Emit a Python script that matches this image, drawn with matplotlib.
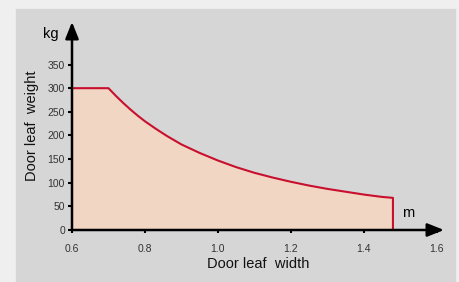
import matplotlib.pyplot as plt
from matplotlib.patches import Rectangle

plt.rcParams['font.family'] = ['Liberation Sans', 'DejaVu Sans']

# door leaf width (m) and permitted weight (kg)
width = [0.6, 0.7, 0.72, 0.74, 0.76, 0.78, 0.8, 0.83, 0.86, 0.9, 0.95, 1.0,
         1.05, 1.1, 1.15, 1.2, 1.25, 1.3, 1.35, 1.4, 1.45, 1.48]
weight = [300, 300, 284, 269, 255, 242, 230, 214, 199, 181, 163, 147,
          133, 121, 111, 102, 94, 87, 81, 75, 70, 68]

x_ticks = [0.6, 0.8, 1.0, 1.2, 1.4, 1.6]
y_ticks = [0, 50, 100, 150, 200, 250, 300, 350]

line_color = '#c8102e'
fill_color = '#f2d6c4'

fig = plt.figure(figsize=(4.6, 2.82), dpi=100, facecolor='#efefef')
fig.patches.append(Rectangle((16 / 460, 0), 439 / 460, 273 / 282,
                             transform=fig.transFigure, color='#d6d6d6', zorder=-10))

ax = fig.add_axes([72 / 460, 52 / 282, 372 / 460, 208 / 282])
ax.set_facecolor('none')
ax.set_xlim(0.6, 1.62)
ax.set_ylim(0, 440)

# closed outline: curve plus the vertical drop at the end
xs = width + [width[-1]]
ys = weight + [0]
ax.fill_between(width, weight, 0, color=fill_color, lw=0, zorder=1)
ax.plot(xs, ys, color=line_color, lw=1.5, zorder=3, solid_joinstyle='round')

for s in ax.spines.values():
    s.set_visible(False)

# axes with arrow heads
arrow = dict(arrowstyle='-|>,head_length=1.0,head_width=0.4',
             color='black', lw=1.8, shrinkA=0, shrinkB=0)
ax.annotate('', xy=(1.62, 0), xytext=(0.6, 0), arrowprops=arrow,
            annotation_clip=False, zorder=4)
ax.annotate('', xy=(0.6, 440), xytext=(0.6, 0), arrowprops=arrow,
            annotation_clip=False, zorder=4)

ax.set_xticks(x_ticks)
ax.set_xticklabels([f'{t:.1f}' for t in x_ticks])
ax.set_yticks(y_ticks)
ax.tick_params(axis='x', direction='out', length=2, width=1.5, pad=8,
               labelsize=7.5, labelcolor='#333333')
ax.tick_params(axis='y', direction='out', length=3, width=1.5, pad=2,
               labelsize=7.5, labelcolor='#333333')

ax.set_xlabel('Door leaf  width', fontsize=10.5, color='#111111', labelpad=2)
ax.set_ylabel('Door leaf  weight', fontsize=10.5, color='#111111', labelpad=6)

ax.text(-0.035, 0.94, 'kg', transform=ax.transAxes, fontsize=10.5,
        ha='right', va='center')
ax.text(0.905, 0.05, 'm', transform=ax.transAxes, fontsize=10.5,
        ha='center', va='bottom')

fig.savefig('out.png', dpi=100, facecolor=fig.get_facecolor())
